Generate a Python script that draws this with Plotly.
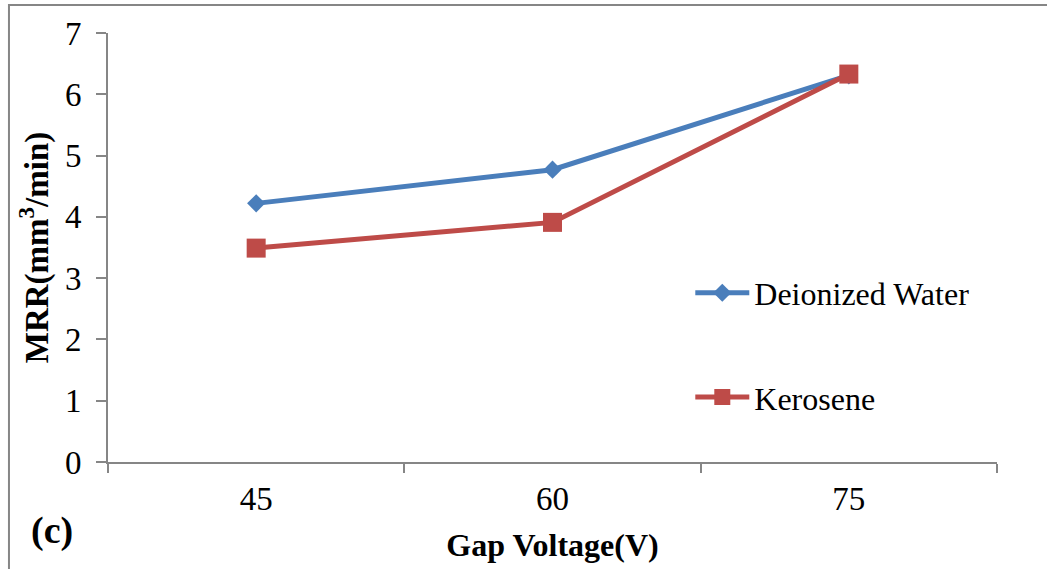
import plotly.graph_objects as go

voltages = ["45", "60", "75"]
deionized_water = [4.22, 4.77, 6.31]
kerosene = [3.49, 3.91, 6.33]
y_ticks = [0, 1, 2, 3, 4, 5, 6, 7]

BLUE = "#4A7EBB"
RED = "#BE4B48"
AXIS = "#868686"
FONT = "Liberation Serif, Times New Roman, serif"

fig = go.Figure()
fig.add_trace(go.Scatter(
    x=voltages, y=deionized_water, name="Deionized Water", mode="lines+markers",
    line=dict(color=BLUE, width=5), marker=dict(symbol="diamond", size=14, color=BLUE),
    legend="legend", showlegend=True,
))
fig.add_trace(go.Scatter(
    x=voltages, y=kerosene, name="Kerosene", mode="lines+markers",
    line=dict(color=RED, width=5), marker=dict(symbol="square", size=19, color=RED),
    legend="legend2", showlegend=True,
))

legend_common = dict(font=dict(family=FONT, size=32, color="black"), bgcolor="rgba(0,0,0,0)",
                     xanchor="left", yanchor="middle", itemwidth=54, visible=True)

fig.update_layout(
    width=1047, height=569,
    margin=dict(l=108, r=50, t=33, b=105),
    paper_bgcolor="white", plot_bgcolor="white",
    font=dict(family=FONT, color="black"),
    showlegend=True,
    legend=dict(x=0.655, y=0.394, **legend_common),
    legend2=dict(x=0.655, y=0.151, **legend_common),
    xaxis=dict(
        type="category", range=[-0.5, 2.5], tickson="boundaries",
        ticks="outside", ticklen=9, tickwidth=1.5, tickcolor=AXIS,
        showline=True, linecolor=AXIS, linewidth=2, showgrid=False, zeroline=False,
        tickfont=dict(family=FONT, size=33, color="black"), ticklabelstandoff=6,
        title=dict(text="<b>Gap Voltage(V)</b>", font=dict(family=FONT, size=32, color="black"), standoff=18),
    ),
    yaxis=dict(
        range=[0, 7], tickvals=y_ticks,
        ticks="outside", ticklen=10, tickwidth=1.5, tickcolor=AXIS,
        showline=True, linecolor=AXIS, linewidth=2, showgrid=False, zeroline=False,
        tickfont=dict(family=FONT, size=33, color="black"), ticklabelstandoff=8,
        title=dict(text="<b>MRR(mm<sup>3</sup>/min)</b>", font=dict(family=FONT, size=33, color="black"), standoff=6),
    ),
    annotations=[dict(
        text="<b>(c)</b>", xref="paper", yref="paper", x=-0.089, y=-0.16,
        xanchor="left", yanchor="middle", showarrow=False,
        font=dict(family=FONT, size=38, color="black"),
    )],
    shapes=[dict(
        type="rect", xref="paper", yref="paper",
        x0=-0.1114, x1=1.07, y0=-0.27, y1=1.065,
        line=dict(color=AXIS, width=2), fillcolor="rgba(0,0,0,0)", layer="below",
    )],
)

fig.write_html("out.html")
